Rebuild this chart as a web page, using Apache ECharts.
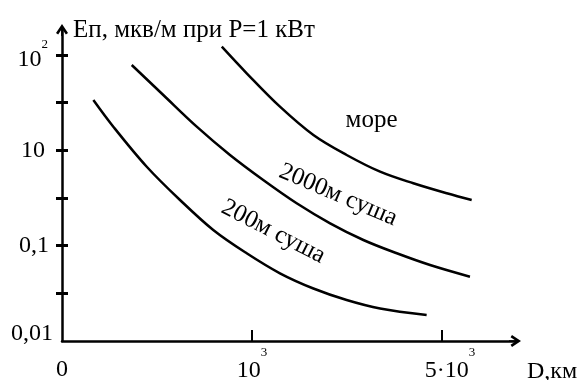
<!DOCTYPE html>
<html>
<head>
<meta charset="utf-8">
<script src="https://cdn.jsdelivr.net/npm/echarts@6/dist/echarts.min.js"></script>
<style>
html,body{margin:0;padding:0;background:#fff;}
#chart{width:581px;height:380px;}
</style>
</head>
<body>
<div id="chart"></div>
<script>
// оси схематичные: x - номер деления (0, 10^3, 5*10^3), y - номер деления (0 = 0,01 ... 6 = 10^2)
var seaX = [0.841, 0.972, 1.147, 1.323, 1.498, 1.674, 1.849, 2.025, 2.156];
var seaY = [6.174, 5.616, 4.915, 4.321, 3.902, 3.552, 3.308, 3.098, 2.958];

var land2000X = [0.367, 0.533, 0.709, 0.884, 1.059, 1.235, 1.411, 1.586, 1.762, 1.937, 2.147];
var land2000Y = [5.79, 5.16, 4.496, 3.902, 3.377, 2.889, 2.469, 2.119, 1.84, 1.594, 1.349];

var land200X = [0.165, 0.27, 0.446, 0.621, 0.796, 0.972, 1.147, 1.323, 1.498, 1.674, 1.919];
var land200Y = [5.056, 4.496, 3.656, 2.958, 2.329, 1.84, 1.42, 1.101, 0.86, 0.682, 0.545];

var curveNames = ['море', '2000м суша', '200м суша'];

var xLabelValues = [0, 1, 2];
var xLabelTexts = ['0', '10', '5·10'];
var xLabelSup = ['', '3', '3'];

var yLabelValues = [0, 2, 4, 6];
var yLabelTexts = ['0,01', '0,1', '10', '10'];
var yLabelSup = ['', '', '', '2'];

var yTickValues = [1, 2, 3, 4, 5, 6];
var xTickValues = [1, 2];

function pairs(xs, ys){
	var out = [];
	for(var i = 0; i < xs.length; i++){
		out.push([xs[i], ys[i]]);
	}
	return out;
}

var font = 'Liberation Serif';
var arrow = 'path://M10,0 L20,15 L16.4,17.4 L11.4,9.9 L11.4,20 L8.6,20 L8.6,9.9 L3.6,17.4 L0,15 Z';

function curve(name, data, labelCoord, rot){
	return {
		name: name,
		type: 'line',
		data: data,
		smooth: 0.35,
		symbol: 'none',
		yAxisIndex: 0,
		lineStyle: {color: '#000', width: 2.5},
		markPoint: {
			symbol: 'circle',
			symbolSize: 0,
			data: [{
				coord: labelCoord,
				label: {
					show: true,
					position: 'inside',
					formatter: name,
					rotate: rot,
					color: '#000',
					fontFamily: font,
					fontSize: 25
				}
			}]
		}
	};
}

var myChart = echarts.init(document.getElementById('chart'));

var option = {
	animation: false,
	backgroundColor: '#fff',
	grid: {
		left: 62,
		right: 66,
		top: 30,
		bottom: 39,
		outerBoundsMode: 'none'
	},
	xAxis: {
		type: 'value',
		min: 0,
		max: 2.384,
		interval: 1,
		name: 'D,км',
		nameLocation: 'end',
		nameGap: 12,
		nameTextStyle: {
			color: '#000', fontFamily: font, fontSize: 24,
			align: 'left', verticalAlign: 'top', padding: [19, 0, 0, 0]
		},
		axisLine: {
			lineStyle: {color: '#000', width: 2.5},
			symbol: ['none', arrow],
			symbolSize: [13, 12]
		},
		axisTick: {
			show: true,
			inside: true,
			length: 11,
			customValues: xTickValues,
			lineStyle: {color: '#000', width: 2}
		},
		axisLabel: {
			margin: 5,
			customValues: xLabelValues,
			color: '#000',
			fontFamily: font,
			formatter: function(v){
				var i = xLabelValues.indexOf(v);
				if(i == -1) return '';
				var s = (i == 2 ? '{c|' : '{b|') + xLabelTexts[i] + '}';
				if(xLabelSup[i]) s += '{s|' + xLabelSup[i] + '}';
				return s;
			},
			rich: {
				b: {fontFamily: font, fontSize: 24, color: '#000', padding: [12, 0, 0, 0]},
				c: {fontFamily: font, fontSize: 24, color: '#000', padding: [12, 0, 0, 16]},
				s: {fontFamily: font, fontSize: 13, color: '#000', padding: [0, 0, 24, 0]}
			}
		},
		splitLine: {show: false}
	},
	yAxis: [{
		type: 'value',
		min: 0,
		max: 6.524,
		interval: 1,
		name: 'Еп, мкв/м при Р=1 кВт',
		nameLocation: 'end',
		nameGap: 0,
		nameTextStyle: {
			color: '#000', fontFamily: font, fontSize: 25,
			align: 'left', verticalAlign: 'middle', padding: [0, 0, 0, 11]
		},
		axisLine: {
			lineStyle: {color: '#000', width: 2.5},
			symbol: ['none', arrow],
			symbolSize: [13, 12]
		},
		axisTick: {
			show: true,
			inside: false,
			length: 6,
			customValues: yTickValues,
			lineStyle: {color: '#000', width: 3}
		},
		axisLabel: {
			margin: 9,
			customValues: yLabelValues,
			color: '#000',
			fontFamily: font,
			formatter: function(v){
				var i = yLabelValues.indexOf(v);
				if(i == -1) return '';
				if(yLabelSup[i]) return '{p|' + yLabelTexts[i] + '}{s|' + yLabelSup[i] + '}';
				if(v == 0) return '{z|' + yLabelTexts[i] + '}';
				if(v == 2) return '{m|' + yLabelTexts[i] + '}';
				return '{n|' + yLabelTexts[i] + '}';
			},
			rich: {
				z: {fontFamily: font, fontSize: 24, color: '#000', padding: [0, 0, 14, 0]},
				m: {fontFamily: font, fontSize: 24, color: '#000', padding: [0, 4, 0, 0]},
				n: {fontFamily: font, fontSize: 24, color: '#000', padding: [0, 8, 0, 0]},
				p: {fontFamily: font, fontSize: 24, color: '#000', padding: [10, 0, 0, 0]},
				s: {fontFamily: font, fontSize: 13, color: '#000', padding: [0, 5, 20, 0]}
			}
		},
		splitLine: {show: false}
	}, {
		// вторая половина засечек (внутрь), чтобы они пересекали ось
		type: 'value',
		min: 0,
		max: 6.524,
		interval: 1,
		position: 'left',
		axisLine: {show: false},
		axisTick: {
			show: true,
			inside: true,
			length: 6,
			customValues: yTickValues,
			lineStyle: {color: '#000', width: 3}
		},
		axisLabel: {show: false},
		splitLine: {show: false}
	}],
	series: [
		curve(curveNames[0], pairs(seaX, seaY), [1.629, 4.636], 0),
		curve(curveNames[1], pairs(land2000X, land2000Y), [1.453, 3.063], -23),
		curve(curveNames[2], pairs(land200X, land200Y), [1.112, 2.293], -27)
	]
};

myChart.setOption(option);
</script>
</body>
</html>
